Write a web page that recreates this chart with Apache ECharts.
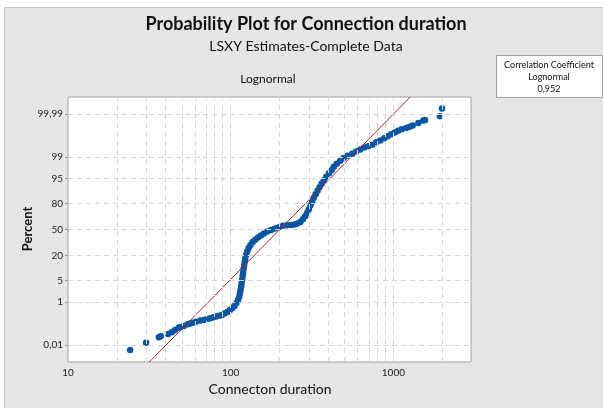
<!DOCTYPE html>
<html>
<head>
<meta charset="utf-8">
<script src="https://cdn.jsdelivr.net/npm/echarts@6/dist/echarts.min.js"></script>
<style>html,body{margin:0;padding:0;background:#fff}#c{width:603px;height:408px}</style>
</head>
<body>
<div id="c"></div>
<script>
// ---- data ----
const durations = [24.1,30.2,36.2,37.2,41.2,43.5,45.5,48.0,48.9,51.5,54.5,56.3,58.5,61.2,65.1,68.3,71.6,75.0,78.2,81.2,84.8,88.4,92.3,95.6,99.0,102.6,105.5,108.5,110.9,112.9,114.0,115.0,116.0,116.8,117.7,118.5,119.2,120.0,120.9,121.9,122.9,124.3,126.4,128.9,132.3,136.5,141.5,147.1,153.4,160.1,167.7,176.7,187.0,197.9,209.4,221.5,234.4,246.3,257.0,268.1,277.7,286.9,295.1,302.3,309.7,316.7,324.3,332.7,341.7,351.6,362.2,373.6,387.0,402.1,418.3,430.3,448.9,471.6,495.6,520.8,558.8,591.4,625.7,662.2,700.6,741.3,784.4,829.9,878.1,922.6,969.4,1019,1070,1124,1198,1259,1313,1424,1528,1567,1932,1988];
const percents = [0.00528,0.0135,0.0259,0.0299,0.0388,0.0466,0.0614,0.0794,0.0838,0.0959,0.1135,0.1225,0.136,0.151,0.168,0.181,0.200,0.213,0.236,0.253,0.274,0.299,0.347,0.393,0.474,0.571,0.684,0.893,1.156,1.48,1.96,2.57,3.33,4.24,5.37,6.72,8.34,10.21,12.38,14.84,17.60,20.66,24.02,27.64,30.96,34.24,37.12,39.95,42.47,45.00,47.30,49.48,51.42,52.96,54.88,55.52,55.77,56.53,57.53,59.68,62.78,66.60,70.61,74.37,78.15,81.51,84.59,87.12,89.35,91.28,92.93,94.34,95.51,96.48,97.23,97.83,98.28,98.66,98.93,99.12,99.26,99.40,99.50,99.58,99.63,99.68,99.75,99.79,99.835,99.866,99.892,99.910,99.927,99.938,99.946,99.953,99.959,99.970,99.9776,99.9789,99.9868,99.99513];
const fitLocation = 5.30;   // lognormal location (ln scale), LSXY fit
const fitScale = 0.433;     // lognormal scale
const correlation = '0,952';
const xRange = [10, 3000];
const yRangePct = [0.001, 99.999];
const xTickValues = [10, 100, 1000];
const xTickLabels = ['10', '100', '1000'];
const xGridValues = [20,30,40,50,60,70,80,90,100,200,300,400,500,600,700,800,900,1000,2000];
const yTickPercents = [0.01, 1, 5, 20, 50, 80, 95, 99, 99.99];
const yTickLabels = ['0,01', '1', '5', '20', '50', '80', '95', '99', '99,99'];

// ---- probability scale helper (inverse normal CDF) ----
function probit(p) {
  const a=[-3.969683028665376e+01,2.209460984245205e+02,-2.759285104469687e+02,1.383577518672690e+02,-3.066479806614716e+01,2.506628277459239e+00];
  const b=[-5.447609879822406e+01,1.615858368580409e+02,-1.556989798598866e+02,6.680131188771972e+01,-1.328068155288572e+01];
  const c=[-7.784894002430293e-03,-3.223964580411365e-01,-2.400758276161838e+00,-2.549732539343734e+00,4.374664141464968e+00,2.938163982698783e+00];
  const d=[7.784695709041462e-03,3.224671290700398e-01,2.445134137142996e+00,3.754408661907416e+00];
  const pl=0.02425, ph=1-pl; let q, r;
  if (p < pl) { q=Math.sqrt(-2*Math.log(p)); return (((((c[0]*q+c[1])*q+c[2])*q+c[3])*q+c[4])*q+c[5])/((((d[0]*q+d[1])*q+d[2])*q+d[3])*q+1); }
  if (p <= ph) { q=p-0.5; r=q*q; return (((((a[0]*r+a[1])*r+a[2])*r+a[3])*r+a[4])*r+a[5])*q/(((((b[0]*r+b[1])*r+b[2])*r+b[3])*r+b[4])*r+1); }
  q=Math.sqrt(-2*Math.log(1-p)); return -(((((c[0]*q+c[1])*q+c[2])*q+c[3])*q+c[4])*q+c[5])/((((d[0]*q+d[1])*q+d[2])*q+d[3])*q+1);
}
const pz = pct => probit(pct / 100);
const lg = v => Math.log10(v);

const points = durations.map((d, i) => [lg(d), pz(percents[i])]);
const zLo = pz(yRangePct[0]), zHi = pz(yRangePct[1]);
const fitLine = [zLo, zHi].map(z => [lg(Math.exp(fitLocation + fitScale * z)), z]);
const yTickZ = yTickPercents.map(pz);
const xTickL = xTickValues.map(lg);

const gridLineData = xGridValues.map(v => ({ xAxis: lg(v) })).concat(yTickZ.map(z => ({ yAxis: z })));

const FONT = 'Lato';
const chart = echarts.init(document.getElementById('c'));
chart.setOption({
  backgroundColor: '#e6e6e6',
  animation: false,
  textStyle: { fontFamily: FONT },
  grid: { left: 68, top: 97, width: 403, height: 265, show: true, backgroundColor: '#ffffff', borderColor: '#a0a0a0', borderWidth: 1 },
  xAxis: {
    type: 'value', min: lg(xRange[0]), max: lg(xRange[1]),
    axisLine: { show: false }, splitLine: { show: false },
    axisTick: { show: true, length: 3, customValues: xTickL, lineStyle: { color: '#909090' } },
    axisLabel: { customValues: xTickL, margin: 6, fontSize: 10, color: '#222', fontFamily: FONT,
      formatter: v => { const i = xTickL.findIndex(t => Math.abs(t - v) < 1e-6); return i >= 0 ? xTickLabels[i] : ''; } }
  },
  yAxis: {
    type: 'value', min: zLo, max: zHi,
    axisLine: { show: false }, splitLine: { show: false },
    axisTick: { show: true, length: 3, customValues: yTickZ, lineStyle: { color: '#909090' } },
    axisLabel: { customValues: yTickZ, margin: 5, fontSize: 10, color: '#222', fontFamily: FONT,
      formatter: v => { const i = yTickZ.findIndex(t => Math.abs(t - v) < 1e-6); return i >= 0 ? yTickLabels[i] : ''; } }
  },
  series: [
    { type: 'scatter', data: [], z: 1, silent: true,
      markLine: { silent: true, symbol: ['none', 'none'], label: { show: false }, animation: false,
        lineStyle: { type: [5, 4], color: '#d6d6d6', width: 1 }, data: gridLineData } },
    { type: 'scatter', data: points, symbol: 'circle', symbolSize: 6.5, z: 3,
      itemStyle: { color: '#0a56a5', opacity: 1, borderWidth: 0 } },
    { type: 'line', data: fitLine, showSymbol: false, symbol: 'none', z: 4, clip: true,
      lineStyle: { color: '#a32626', width: 1 } }
  ],
  graphic: [
    { type: 'rect', shape: { x: 0, y: 0, width: 603, height: 7 }, style: { fill: '#ffffff' }, silent: true },
    { type: 'rect', shape: { x: 0, y: 0, width: 4, height: 408 }, style: { fill: '#ffffff' }, silent: true },
    { type: 'polyline', shape: { points: [[4.5, 408], [4.5, 7.5], [603, 7.5]] }, style: { stroke: '#c4c4c4', lineWidth: 1, fill: null }, silent: true },
    { type: 'text', x: 306, y: 24, style: { text: 'Probability Plot for Connection duration', font: 'bold 18px ' + FONT, fill: '#111', textAlign: 'center', textVerticalAlign: 'middle' } },
    { type: 'text', x: 306, y: 46, style: { text: 'LSXY Estimates-Complete Data', font: '14px ' + FONT, fill: '#111', textAlign: 'center', textVerticalAlign: 'middle' } },
    { type: 'text', x: 268, y: 79, style: { text: 'Lognormal', font: '12px ' + FONT, fill: '#111', textAlign: 'center', textVerticalAlign: 'middle' } },
    { type: 'text', x: 28, y: 229, rotation: Math.PI / 2, style: { text: 'Percent', font: 'bold 13px ' + FONT, fill: '#111', textAlign: 'center', textVerticalAlign: 'middle' } },
    { type: 'text', x: 270, y: 389, style: { text: 'Connecton duration', font: '14px ' + FONT, fill: '#111', textAlign: 'center', textVerticalAlign: 'middle' } },
    { type: 'rect', shape: { x: 496.5, y: 55.5, width: 106, height: 42 }, style: { fill: '#ffffff', stroke: '#a0a0a0', lineWidth: 1 } },
    { type: 'text', x: 549, y: 65, style: { text: 'Correlation Coefficient', font: '9px ' + FONT, fill: '#111', textAlign: 'center', textVerticalAlign: 'middle' } },
    { type: 'text', x: 549, y: 77, style: { text: 'Lognormal', font: '9px ' + FONT, fill: '#111', textAlign: 'center', textVerticalAlign: 'middle' } },
    { type: 'text', x: 549, y: 89, style: { text: correlation, font: '9px ' + FONT, fill: '#111', textAlign: 'center', textVerticalAlign: 'middle' } }
  ]
});
</script>
</body>
</html>
